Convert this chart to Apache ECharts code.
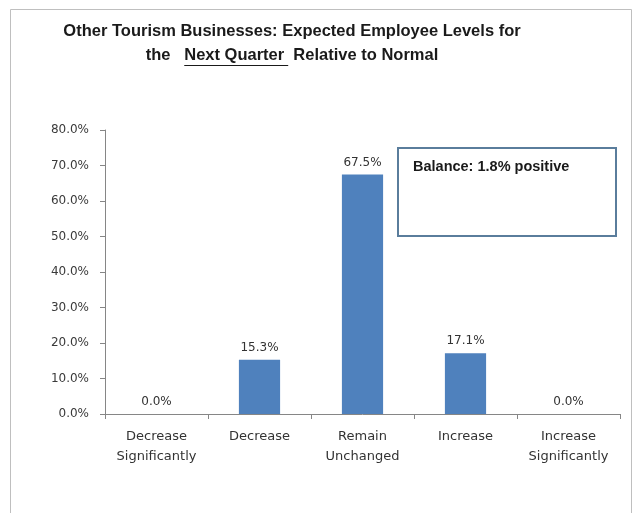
<!DOCTYPE html>
<html>
<head>
<meta charset="utf-8">
<script src="https://cdn.jsdelivr.net/npm/echarts@6/dist/echarts.min.js"></script>
<style>
  html, body { margin: 0; padding: 0; background: #fff; }
  #chart { width: 638px; height: 513px; }
</style>
</head>
<body>
<div id="chart"></div>
<script>
// Survey response categories and share of businesses (%)
const categories = ['Decrease\nSignificantly', 'Decrease', 'Remain\nUnchanged', 'Increase', 'Increase\nSignificantly'];
const shares = [0.0, 15.3, 67.5, 17.1, 0.0];
const yTicks = { min: 0, max: 80, interval: 10 };
const balanceText = 'Balance: 1.8% positive';
const titleLine1 = 'Other Tourism Businesses: Expected Employee Levels for';
const titleLine2 = ['the   ', 'Next Quarter', '  Relative to Normal'];

const FONT = '"Liberation Sans", Arial, sans-serif';
const AXIS_FONT = '"DejaVu Sans", Verdana, sans-serif';
const titleFont = 'bold 16.5px ' + FONT;

// measure title pieces so the underlined phrase lines up
const ctx = document.createElement('canvas').getContext('2d');
ctx.font = titleFont;
const w = titleLine2.map(s => ctx.measureText(s).width);
const line2Width = w[0] + w[1] + w[2];
const titleCenter = 292;
const l2x = titleCenter - line2Width / 2;

const chart = echarts.init(document.getElementById('chart'), null, { renderer: 'canvas' });

chart.setOption({
  backgroundColor: '#ffffff',
  animation: false,
  grid: { left: 105, right: 18, top: 130, bottom: 99 },
  xAxis: {
    type: 'category',
    data: categories,
    axisLine: { lineStyle: { color: '#868686', width: 1 } },
    axisTick: { show: true, alignWithLabel: false, length: 5, lineStyle: { color: '#868686' } },
    axisLabel: { color: '#333', fontSize: 13, fontFamily: AXIS_FONT, margin: 13, lineHeight: 20, interval: 0 }
  },
  yAxis: {
    type: 'value',
    min: yTicks.min,
    max: yTicks.max,
    interval: yTicks.interval,
    splitLine: { show: false },
    axisLine: { show: true, lineStyle: { color: '#868686', width: 1 } },
    axisTick: { show: true, length: 5, lineStyle: { color: '#868686' } },
    axisLabel: {
      color: '#3a3a3a', fontSize: 12, fontFamily: AXIS_FONT, margin: 16,
      formatter: v => v.toFixed(1) + '%'
    }
  },
  series: [{
    type: 'bar',
    data: shares,
    barWidth: '40%',
    itemStyle: { color: '#4F81BD' },
    label: {
      show: true,
      position: 'top',
      distance: 6,
      color: '#333',
      fontSize: 12,
      fontFamily: AXIS_FONT,
      formatter: p => p.value.toFixed(1) + '%'
    }
  }],
  graphic: [
    { // outer chart-area frame
      type: 'rect', silent: true, z: -1,
      shape: { x: 10.5, y: 9.5, width: 621, height: 520 },
      style: { fill: null, stroke: '#bfbfbf', lineWidth: 1 }
    },
    {
      type: 'text', silent: true, x: titleCenter, y: 23,
      style: { text: titleLine1, font: titleFont, fill: '#1a1a1a', align: 'center' }
    },
    {
      type: 'text', silent: true, x: l2x, y: 47,
      style: { text: titleLine2[0], font: titleFont, fill: '#1a1a1a' }
    },
    {
      type: 'text', silent: true, x: l2x + w[0], y: 47,
      style: { text: titleLine2[1], font: titleFont, fill: '#1a1a1a' }
    },
    {
      type: 'line', silent: true,
      shape: { x1: l2x + w[0], y1: 65.5, x2: l2x + w[0] + w[1] + 4, y2: 65.5 },
      style: { stroke: '#1a1a1a', lineWidth: 1 }
    },
    {
      type: 'text', silent: true, x: l2x + w[0] + w[1], y: 47,
      style: { text: titleLine2[2], font: titleFont, fill: '#1a1a1a' }
    },
    { // balance note box
      type: 'rect', silent: true,
      shape: { x: 398, y: 148, width: 218, height: 88 },
      style: { fill: '#ffffff', stroke: '#5a7d9c', lineWidth: 2 }
    },
    {
      type: 'text', silent: true, x: 413, y: 159,
      style: { text: balanceText, font: 'bold 14.5px ' + FONT, fill: '#1a1a1a' }
    }
  ]
});
</script>
</body>
</html>
